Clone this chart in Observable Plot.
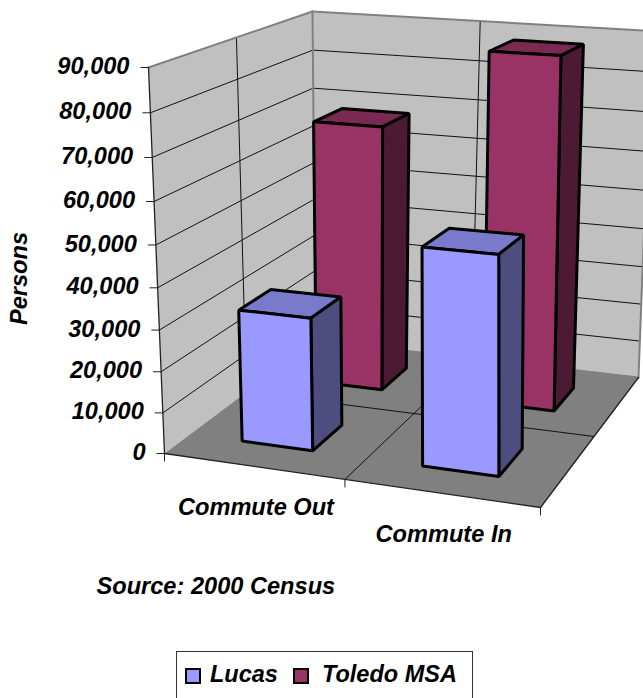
<!DOCTYPE html>
<html>
<head>
<meta charset="utf-8">
<script src="https://cdn.jsdelivr.net/npm/d3@7"></script>
<script src="https://cdn.jsdelivr.net/npm/@observablehq/plot@0.6"></script>
<style>
  html, body { margin: 0; padding: 0; background: #fff; overflow: hidden; }
  #legend {
    box-sizing: border-box; position: absolute; left: 176px; top: 651px;
    width: 297px; height: 60px; border: 1px solid #333;
    font: italic bold 23.5px "Liberation Sans", sans-serif; color: #000;
  }
  #legend .sw { position: absolute; top: 16px; width: 12px; height: 12px; border: 2px solid #000; }
  #legend .lb { position: absolute; top: 9px; white-space: nowrap; }
</style>
</head>
<body>
<div id="chart"></div>
<div id="legend"></div>
<script>
// Census commuter counts by direction, one bar per area.
const categories = ["Commute Out", "Commute In"];
const seriesNames = ["Lucas", "Toledo MSA"];
const lucas = [32300, 51500];
const toledo = [68000, 88000];
const valueTicks = [0, 10000, 20000, 30000, 40000, 50000, 60000, 70000, 80000, 90000];
const valueMax = 90000;

const width = 643, height = 651;
const labelFont = {fontFamily: "Liberation Sans", fontWeight: "bold", fontStyle: "italic", fontSize: 23.6, fill: "black"};

// Palette: front, side and top faces for each series.
const faceColors = [
  {front: "#9999ff", side: "#4d4d80", top: "#7a7acc"},
  {front: "#993366", side: "#4d1a33", top: "#7a2952"}
];
const wallColor = "#c0c0c0", floorColor = "#808080";

// Square-to-quad homography used for the floor and ceiling of the chart box.
function homography([[x0, y0], [x1, y1], [x2, y2], [x3, y3]]) {
  const dx1 = x1 - x2, dx2 = x3 - x2, sx = x0 - x1 + x2 - x3;
  const dy1 = y1 - y2, dy2 = y3 - y2, sy = y0 - y1 + y2 - y3;
  const den = dx1 * dy2 - dx2 * dy1;
  const g = (sx * dy2 - dx2 * sy) / den, h = (dx1 * sy - sx * dy1) / den;
  const a = x1 - x0 + g * x1, b = x3 - x0 + h * x3;
  const d = y1 - y0 + g * y1, e = y3 - y0 + h * y3;
  return (u, v) => {
    const w = g * u + h * v + 1;
    return [(a * u + b * v + x0) / w, (d * u + e * v + y0) / w];
  };
}
// Camera of the box: corners run front-left, front-right, back-right, back-left.
const floorAt = homography([[164, 453], [540, 507], [638, 377], [315, 340]]);
const ceilingAt = homography([[148, 67], [537, 91], [651, 30.5], [312, 11]]);
const foreshorten = -0.06;

// (u, v) are 0..1 across and into the box; value is in persons.
function project(u, v, value) {
  const z = value / valueMax;
  const t = z * (1 + foreshorten) / (1 + foreshorten * z);
  const [fx, fy] = floorAt(u, v), [cx, cy] = ceilingAt(u, v);
  return [fx + (cx - fx) * t, fy + (cy - fy) * t];
}

function polygon(id, fill, corners) {
  return corners.map(([u, v, val]) => {
    const [x, y] = project(u, v, val);
    return {id, fill, x, y};
  });
}
function segment(id, a, b) {
  return [a, b].map(([u, v, val]) => {
    const [x, y] = project(u, v, val);
    return {id, x, y};
  });
}

// Back and side walls with the floor beneath them.
const shell = [
  ...polygon("side", wallColor, [[0, 0, 0], [0, 1, 0], [0, 1, valueMax], [0, 0, valueMax]]),
  ...polygon("back", wallColor, [[0, 1, 0], [1, 1, 0], [1, 1, valueMax], [0, 1, valueMax]]),
  ...polygon("floor", floorColor, [[0, 0, 0], [1, 0, 0], [1, 1, 0], [0, 1, 0]])
];

// Gridlines on the walls and floor.
const gridValues = valueTicks.filter(d => d > 0 && d < valueMax);
const grid = [
  ...gridValues.flatMap(d => [
    ...segment(`s${d}`, [0, 0, d], [0, 1, d]),
    ...segment(`b${d}`, [0, 1, d], [1, 1, d])
  ]),
  ...segment("sv", [0, 0.5, 0], [0, 0.5, valueMax]),
  ...segment("bv", [0.5, 1, 0], [0.5, 1, valueMax]),
  ...segment("fu", [0.5, 0, 0], [0.5, 1, 0]),
  ...segment("fv", [0, 0.5, 0], [1, 0.5, 0])
];
const wallEdges = [
  ...segment("e1", [0, 0, valueMax], [0, 1, valueMax]),
  ...segment("e2", [0, 1, valueMax], [1, 1, valueMax]),
  ...segment("e3", [0, 1, 0], [0, 1, valueMax]),
  ...segment("e4", [1, 1, 0], [1, 1, valueMax]),
  ...segment("e5", [0, 1, 0], [1, 1, 0])
];
const boxEdges = [
  ...segment("k1", [0, 0, 0], [0, 0, valueMax]),
  ...segment("k2", [0, 0, 0], [1, 0, 0]),
  ...segment("k3", [1, 0, 0], [1, 1, 0])
];

// Each bar fills a share of its category band and series band.
const barHalfWidth = 0.1, barHalfDepth = 0.1;
function barFaces(cat, ser, value) {
  const uc = 0.25 + 0.5 * cat, vc = 0.25 + 0.5 * ser;
  const u0 = uc - barHalfWidth, u1 = uc + barHalfWidth;
  const v0 = vc - barHalfDepth, v1 = vc + barHalfDepth;
  const c = faceColors[ser], key = `${cat}-${ser}`;
  return [
    ...polygon(`${key}t`, c.top, [[u0, v0, value], [u1, v0, value], [u1, v1, value], [u0, v1, value]]),
    ...polygon(`${key}r`, c.side, [[u1, v0, 0], [u1, v1, 0], [u1, v1, value], [u1, v0, value]]),
    ...polygon(`${key}f`, c.front, [[u0, v0, 0], [u1, v0, 0], [u1, v0, value], [u0, v0, value]])
  ];
}
// Painted back to front.
const bars = [
  ...toledo.flatMap((d, i) => barFaces(i, 1, d)),
  ...lucas.flatMap((d, i) => barFaces(i, 0, d))
];

const valueLabels = valueTicks.map(d => {
  const [x, y] = project(0, 0, d);
  return {label: d3.format(",")(d), x, y};
});
const floorTicks = [0, 0.5, 1].map(u => {
  const [x, y] = project(u, 0, 0);
  return {x, y};
});
const categoryLabels = categories.map((label, i) => {
  const [x, y] = project(0.25 + 0.5 * i, 0, 0);
  return {label, x, y};
});

const chart = Plot.plot({
  width, height,
  margin: 0,
  style: {background: "white"},
  x: {domain: [0, width], range: [0, width], axis: null},
  y: {domain: [0, height], range: [0, height], axis: null},
  color: {type: "identity"},
  marks: [
    Plot.line(shell, {x: "x", y: "y", z: "id", fill: "fill", curve: "linear-closed"}),
    Plot.line(grid, {x: "x", y: "y", z: "id", stroke: "#111", strokeWidth: 1}),
    Plot.line(wallEdges, {x: "x", y: "y", z: "id", stroke: "#808080", strokeWidth: 2}),
    Plot.line(boxEdges, {x: "x", y: "y", z: "id", stroke: "#222", strokeWidth: 1.3}),
    Plot.link(valueLabels, {x1: d => d.x - 8, y1: "y", x2: "x", y2: "y", stroke: "#222", strokeWidth: 1}),
    Plot.link(floorTicks, {x1: "x", y1: "y", x2: "x", y2: d => d.y + 8, stroke: "#222", strokeWidth: 1}),
    Plot.line(bars, {x: "x", y: "y", z: "id", fill: "fill", stroke: "black", strokeWidth: 3, strokeLinejoin: "miter", curve: "linear-closed"}),
    Plot.text(valueLabels, {x: "x", y: "y", text: "label", dx: -19, dy: -1, textAnchor: "end", ...labelFont}),
    Plot.text(categoryLabels, {x: "x", y: "y", text: "label", dx: 3, dy: 41, ...labelFont}),
    Plot.text(["Persons"], {x: () => 19, y: () => 278, text: d => d, rotate: -90, ...labelFont}),
    Plot.text(["Source: 2000 Census"], {x: () => 96, y: () => 586, text: d => d, textAnchor: "start", ...labelFont})
  ]
});
document.getElementById("chart").appendChild(chart);

// Legend under the chart.
const legend = document.getElementById("legend");
const swatchLeft = [8, 116], labelLeft = [33, 145];
seriesNames.forEach((name, i) => {
  const sw = document.createElement("span");
  sw.className = "sw";
  sw.style.left = swatchLeft[i] + "px";
  sw.style.background = faceColors[i].front;
  const lb = document.createElement("span");
  lb.className = "lb";
  lb.style.left = labelLeft[i] + "px";
  lb.textContent = name;
  legend.append(sw, lb);
});
</script>
</body>
</html>
